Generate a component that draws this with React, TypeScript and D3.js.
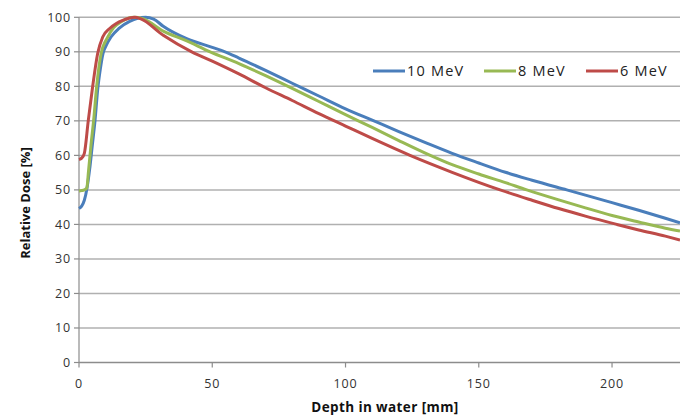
import React from "react";
import * as d3 from "d3";

// Depth-dose curves: depth in water [mm] vs relative dose [%]
const depth10 = [0, 1, 2, 3, 4, 5, 6, 7, 8, 9, 10, 12, 15, 19, 22, 25, 28, 31.6, 40.4, 50, 54.8, 60, 70, 80, 90, 100, 110, 120, 130, 140, 150, 160, 170, 183, 190, 200, 210, 220, 225.5];
const dose10 = [44.6, 45.3, 47, 50.5, 56, 63, 70, 79, 85, 89.5, 91.5, 94.3, 96.8, 98.8, 99.7, 100, 99.5, 97.4, 93.8, 91.3, 90, 88.2, 84.6, 80.9, 77.2, 73.5, 70.2, 66.9, 63.7, 60.6, 57.8, 55.1, 52.8, 50, 48.5, 46.3, 44.1, 41.8, 40.5];

const depth8 = [0, 1, 2, 2.9, 3.6, 4.5, 5.5, 6.6, 8.3, 10.8, 13, 16, 20.6, 24, 31.6, 40, 49.2, 60, 70, 80, 90, 100, 110, 120, 131.8, 140, 150, 160, 168, 180, 190, 200, 210, 220, 225.5];
const dose8 = [49.7, 49.8, 50, 50.5, 55.7, 63, 70.2, 79.8, 89.5, 94.3, 97, 98.8, 100, 99.6, 96, 93.3, 90, 86.6, 83.1, 79.4, 75.6, 71.8, 68.1, 64.3, 60, 57.3, 54.6, 52.1, 50, 47.1, 44.8, 42.6, 40.7, 38.9, 38.1];

const depth6 = [0, 1, 2, 3.5, 5.1, 7, 8.9, 11.4, 14, 16.4, 21, 23, 31.6, 42.3, 50, 60, 70, 80, 90, 100, 110, 124.2, 140, 158, 170, 180, 190, 201.8, 210, 220, 225.5];
const dose6 = [58.8, 59.2, 60.6, 70.2, 79.8, 89.5, 94.3, 96.7, 98.2, 99.1, 100, 99.6, 94.8, 90, 87.3, 83.6, 79.6, 75.9, 72.1, 68.5, 64.9, 60, 55.1, 50, 47, 44.6, 42.4, 40, 38.4, 36.6, 35.5];

const seriesNames = ["10 MeV", "8 MeV", "6 MeV"];
const seriesColors = ["#4a7ebb", "#98b954", "#be4b48"];

const xTicks = [0, 50, 100, 150, 200];
const yTicks = [0, 10, 20, 30, 40, 50, 60, 70, 80, 90, 100];

const W = 680;
const H = 418;
const FONT = "'Open Sans', 'DejaVu Sans', sans-serif";

export default function App() {
  const x = d3.scaleLinear().domain([0, 225.5]).range([79, 680]);
  const y = d3.scaleLinear().domain([0, 100]).range([362.5, 17.3]);

  const series = [
    { name: seriesNames[0], color: seriesColors[0], xs: depth10, ys: dose10 },
    { name: seriesNames[1], color: seriesColors[1], xs: depth8, ys: dose8 },
    { name: seriesNames[2], color: seriesColors[2], xs: depth6, ys: dose6 },
  ];

  const line = d3
    .line<[number, number]>()
    .x((d) => x(d[0]))
    .y((d) => y(d[1]))
    .curve(d3.curveMonotoneX);

  const legendX = [373, 484, 586];
  const legendY = 71;

  return (
    <svg
      width={W}
      height={H}
      style={{ position: "absolute", left: 0, top: 0, background: "#fff" }}
      fontFamily={FONT}
    >
      <rect width={W} height={H} fill="#fff" />
      {/* horizontal gridlines */}
      {yTicks
        .filter((t) => t > 0)
        .map((t) => (
          <line
            key={"g" + t}
            x1={x(0)}
            x2={W}
            y1={y(t)}
            y2={y(t)}
            stroke="#b0b0b0"
            strokeWidth={1.5}
          />
        ))}
      {/* axes */}
      <line x1={x(0)} x2={W} y1={y(0)} y2={y(0)} stroke="#8c8c8c" strokeWidth={1.5} />
      <line x1={x(0)} x2={x(0)} y1={y(100)} y2={y(0)} stroke="#8c8c8c" strokeWidth={1.2} />
      {yTicks.map((t) => (
        <g key={"yt" + t}>
          <line x1={x(0) - 5} x2={x(0)} y1={y(t)} y2={y(t)} stroke="#8c8c8c" strokeWidth={1.2} />
          <text
            x={x(0) - 8}
            y={y(t)}
            dy="0.36em"
            textAnchor="end"
            fontSize={12.5}
            letterSpacing={0.8}
            fill="#333"
          >
            {t}
          </text>
        </g>
      ))}
      {xTicks.map((t) => (
        <g key={"xt" + t}>
          <line x1={x(t)} x2={x(t)} y1={y(0)} y2={y(0) + 5} stroke="#8c8c8c" strokeWidth={1.2} />
          <text
            x={x(t)}
            y={y(0) + 25}
            textAnchor="middle"
            fontSize={12.5}
            letterSpacing={0.8}
            fill="#333"
          >
            {t}
          </text>
        </g>
      ))}
      {/* series */}
      {series.map((s) => (
        <path
          key={s.name}
          d={line(s.xs.map((v, i) => [v, s.ys[i]] as [number, number])) || ""}
          fill="none"
          stroke={s.color}
          strokeWidth={3}
          strokeLinejoin="round"
        />
      ))}
      {/* legend */}
      {series.map((s, i) => (
        <g key={"lg" + s.name}>
          <line
            x1={legendX[i]}
            x2={legendX[i] + 32}
            y1={legendY}
            y2={legendY}
            stroke={s.color}
            strokeWidth={3}
          />
          <text
            x={legendX[i] + 34}
            y={legendY}
            dy="0.36em"
            fontSize={14.5}
            letterSpacing={1.2}
            fill="#222"
          >
            {s.name}
          </text>
        </g>
      ))}
      {/* axis titles */}
      <text
        x={385}
        y={412}
        textAnchor="middle"
        fontSize={13.5}
        letterSpacing={0.4}
        fontWeight="bold"
        fill="#111"
      >
        Depth in water [mm]
      </text>
      <text
        transform={`translate(30, 203) rotate(-90)`}
        textAnchor="middle"
        fontSize={13}
        fontWeight="bold"
        fill="#111"
      >
        Relative Dose [%]
      </text>
    </svg>
  );
}
